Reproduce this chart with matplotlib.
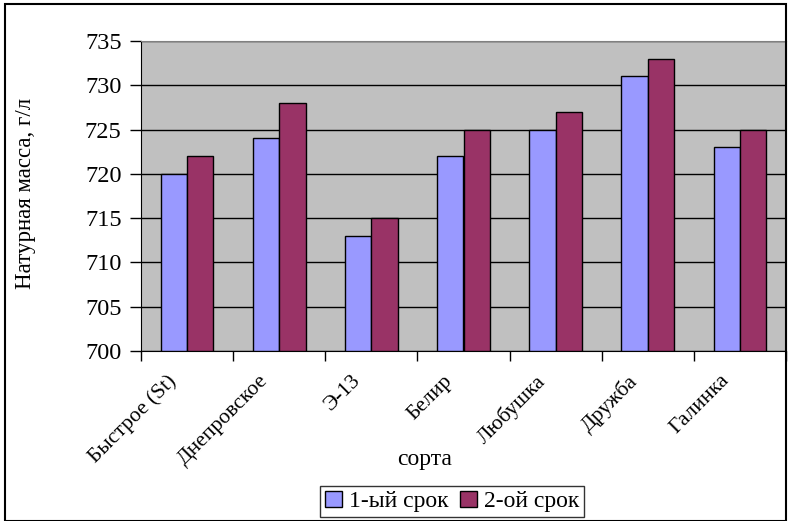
import matplotlib
matplotlib.use("Agg")
import matplotlib.pyplot as plt
import numpy as np
from matplotlib.patches import Rectangle

categories = ["Быстрое (St)", "Днепровское", "Э-13", "Белир", "Любушка", "Дружба", "Галинка"]
series_names = ["1-ый срок", "2-ой срок"]
srok1 = [720, 724, 713, 722, 725, 731, 723]
srok2 = [722, 728, 715, 725, 727, 733, 725]
yticks = [700, 705, 710, 715, 720, 725, 730, 735]

plt.rcParams['font.family'] = ['Liberation Serif', 'DejaVu Serif']

W, H = 789, 521
fig = plt.figure(figsize=(W/100, H/100), dpi=100)
ax = fig.add_axes([141/W, 1-351/H, (786-141)/W, (351-41)/H])
ax.set_facecolor('#c0c0c0')

x = np.arange(len(categories))
bw = 1/3.5
ax.bar(x - bw/2, [v - 700 for v in srok1], bw, bottom=700, color='#9999ff', edgecolor='black', linewidth=1, zorder=3, label=series_names[0])
ax.bar(x + bw/2, [v - 700 for v in srok2], bw, bottom=700, color='#993366', edgecolor='black', linewidth=1, zorder=3, label=series_names[1])

ax.set_xlim(-0.5, len(categories) - 0.5)
ax.set_ylim(700, 735)
ax.set_yticks(yticks)
ax.set_yticklabels([str(t) for t in yticks], fontsize=17.5)
ax.yaxis.grid(True, color='black', linewidth=1, zorder=1)
ax.tick_params(axis='y', direction='out', length=8, width=1, pad=6)

ax.set_xticks(np.arange(len(categories) + 1) - 0.5, minor=False)
ax.set_xticklabels([])
ax.tick_params(axis='x', direction='out', length=7, width=1)
for i, c in enumerate(categories):
    ax.text(i - 0.22, 697.7, c, rotation=45, ha='right', va='top', fontsize=15.5,
            rotation_mode='anchor', transform=ax.transData)

for s in ['top', 'right']:
    ax.spines[s].set_color('#808080')
for s in ['left', 'bottom']:
    ax.spines[s].set_color('black')

fig.text(425/W, 1-459/H, "сорта", ha='center', va='center', fontsize=17)
fig.text(25/W, 1-193/H, "Натурная масса, г/л", ha='center', va='center', rotation=90, fontsize=16.5)

leg = fig.legend(loc='upper center', bbox_to_anchor=(452/W, 1-486/H), ncol=2, fontsize=17,
                 frameon=True, fancybox=False, edgecolor='black', handlelength=0.7,
                 handleheight=0.7, handletextpad=0.3, columnspacing=0.5, borderpad=0.2,
                 borderaxespad=0)
leg.get_frame().set_linewidth(1)

fig.patches.append(Rectangle((5/W, 0), 781/W, 1-4/H, transform=fig.transFigure,
                             fill=False, edgecolor='black', linewidth=1.5))

fig.savefig('out.png', dpi=100)
